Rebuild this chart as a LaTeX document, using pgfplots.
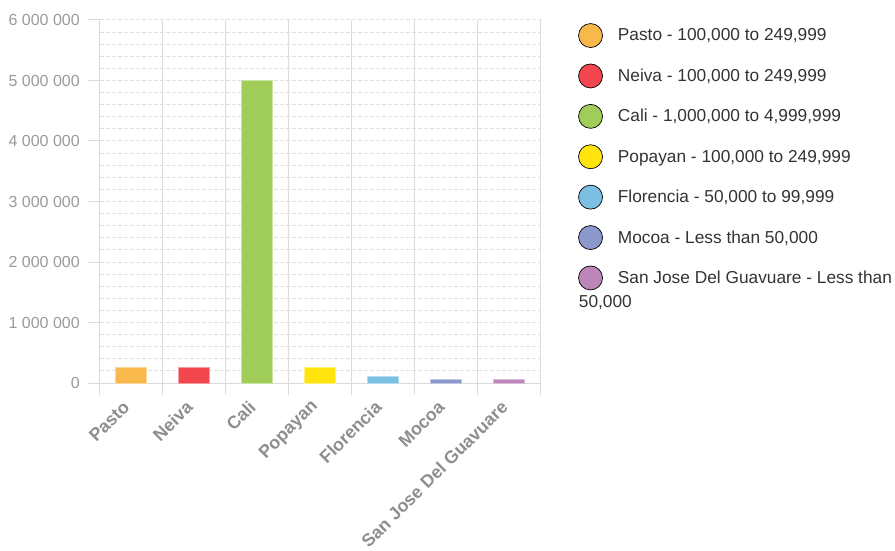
\documentclass[border=0pt]{standalone}
\usepackage{pgfplots}
\pgfplotsset{compat=1.18}
\usepackage{fontspec}
\setmainfont{Liberation Sans}
\definecolor{cPasto}{HTML}{F9B84C}
\definecolor{cNeiva}{HTML}{F2474E}
\definecolor{cCali}{HTML}{A0CC5A}
\definecolor{cPopayan}{HTML}{FFE50D}
\definecolor{cFlorencia}{HTML}{7BBFE3}
\definecolor{cMocoa}{HTML}{8B98CB}
\definecolor{cSanJose}{HTML}{BC86BA}
\definecolor{gridc}{HTML}{DCDCDC}
\definecolor{minorc}{HTML}{E0E0E0}
\definecolor{ytickc}{HTML}{9A9A9A}
\definecolor{xtickc}{HTML}{8E8E8E}
\definecolor{legc}{HTML}{333333}
\pgfplotsset{
  citybar/.style={ybar, bar width=31pt, bar shift=0pt, fill=#1, draw=#1!55!white, line width=1pt,
    legend image code/.code={\draw[fill=#1, draw=black, line width=0.7pt] (12pt,0pt) circle (12pt);}},
}
\begin{document}
\begin{tikzpicture}
\begin{axis}[
  at={(0,0)}, anchor=south west,
  scale only axis, width=441pt, height=363pt,
  xmin=-0.5, xmax=6.5, ymin=0, ymax=6000000,
  scaled y ticks=false,
  axis line style={draw=none},
  tick pos=left,
  tick align=outside,
  major tick length=12pt,
  minor tick length=0pt,
  tick style={gridc, line width=1pt},
  xtick={-0.5,0.5,...,6.5},
  xticklabels={},
  xmajorgrids,
  major x grid style={gridc, line width=1pt},
  extra x ticks={0,1,2,3,4,5,6},
  extra x tick labels={Pasto,Neiva,Cali,Popayan,Florencia,Mocoa,San Jose Del Guavuare},
  extra x tick style={major tick length=0pt, grid=none},
  xticklabel style={font=\fontsize{17.8}{20}\bfseries, text=xtickc, xshift=-5pt, yshift=-21pt, rotate=45, anchor=east, inner sep=0pt},
  ytick={0,1000000,2000000,3000000,4000000,5000000,6000000},
  yticklabels={0,1 000 000,2 000 000,3 000 000,4 000 000,5 000 000,6 000 000},
  yticklabel style={font=\fontsize{16}{18}\selectfont, text=ytickc, anchor=east, inner sep=0pt, xshift=-8pt},
  minor y tick num=4,
  ymajorgrids, yminorgrids,
  major y grid style={minorc, line width=1pt, dash pattern=on 4pt off 2pt},
  minor y grid style={minorc, line width=1pt, dash pattern=on 4pt off 2pt},
  legend style={at={(1,1)}, anchor=north west, xshift=37pt, yshift=-3pt, draw=none, fill=none,
    font=\fontsize{17.3}{24}\selectfont, text=legc, row sep=15.7pt, inner sep=0pt,
    nodes={inner sep=0pt},
    /tikz/every even column/.append style={column sep=0pt}},
  legend cell align=left,
  clip=false,
]
\draw[gridc, line width=1pt] (axis cs:-0.5,0) -- (axis cs:6.5,0);
\addplot[citybar=cPasto] coordinates {(0,249999)};
\addlegendentry{\hspace{15pt}Pasto - 100,000 to 249,999}
\addplot[citybar=cNeiva] coordinates {(1,249999)};
\addlegendentry{\hspace{15pt}Neiva - 100,000 to 249,999}
\addplot[citybar=cCali] coordinates {(2,4999999)};
\addlegendentry{\hspace{15pt}Cali - 1,000,000 to 4,999,999}
\addplot[citybar=cPopayan] coordinates {(3,249999)};
\addlegendentry{\hspace{15pt}Popayan - 100,000 to 249,999}
\addplot[citybar=cFlorencia] coordinates {(4,99999)};
\addlegendentry{\hspace{15pt}Florencia - 50,000 to 99,999}
\addplot[citybar=cMocoa] coordinates {(5,49999)};
\addlegendentry{\hspace{15pt}Mocoa - Less than 50,000}
\addplot[citybar=cSanJose] coordinates {(6,49999)};
\addlegendentry{\hspace{15pt}\smash{\rlap{\hspace{-39pt}\raisebox{-24pt}{50,000}}}San Jose Del Guavuare - Less than}
\end{axis}
\pgfresetboundingbox
\path[use as bounding box] (-100pt,-168pt) rectangle (795pt,383pt);
\end{tikzpicture}
\end{document}
